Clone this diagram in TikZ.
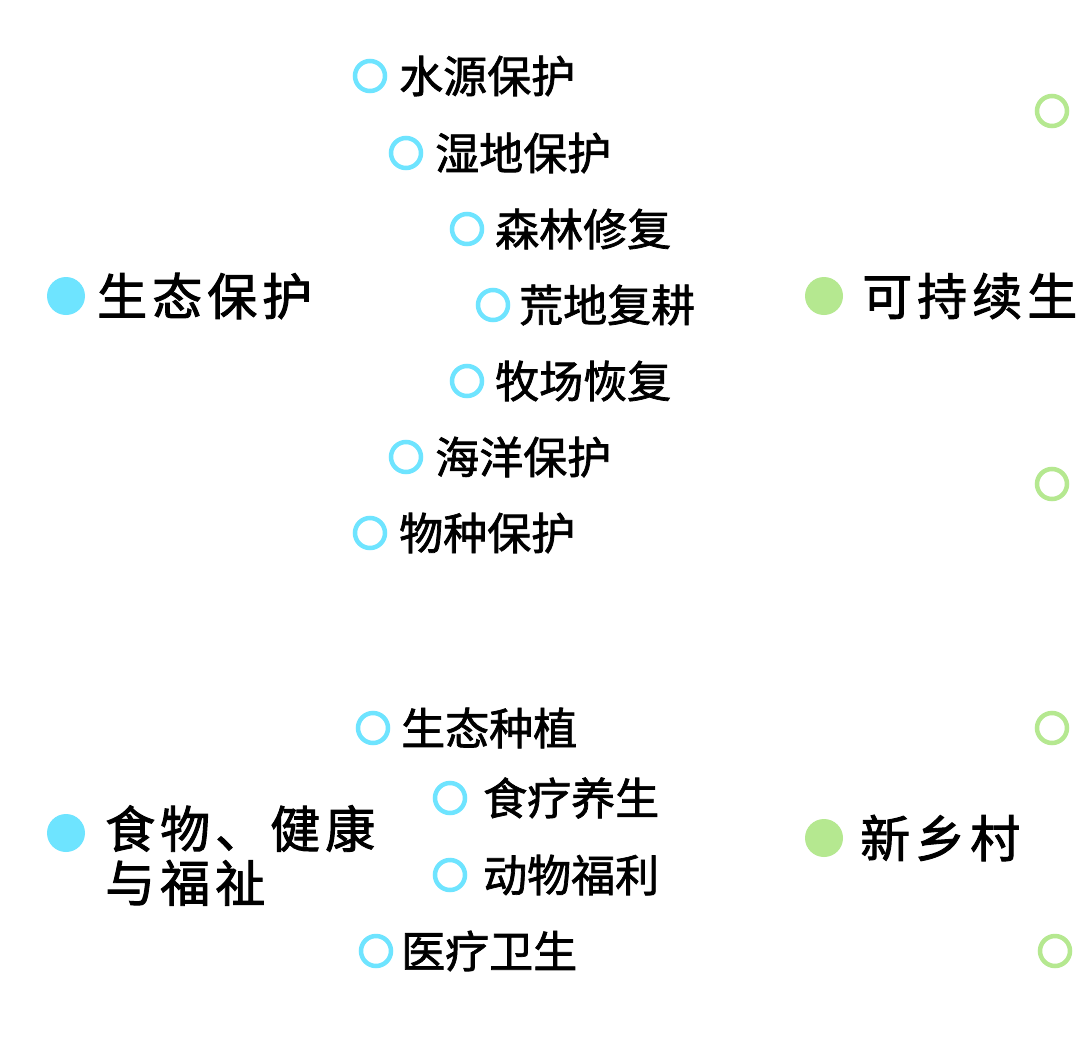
\documentclass[tikz,border=0pt]{standalone}
\usepackage{fontspec}
\newfontfamily\cjk[FakeBold=1.6]{Noto Sans CJK SC}
\newfontfamily\cjkbig[LetterSpace=10,FakeBold=1.8]{Noto Sans CJK SC}
\usetikzlibrary{positioning}
\definecolor{eco}{RGB}{110,228,255}
\definecolor{farm}{RGB}{181,232,144}
\tikzset{
  bigdot/.style={circle,fill=#1,draw=none,minimum size=38pt,inner sep=0pt},
  ring/.style={circle,draw=#1,line width=4.5pt,minimum size=30pt,inner sep=0pt},
  topic/.style={anchor=west,inner sep=0pt,font=\cjkbig\fontsize{50}{54}\selectfont,text=black},
  item/.style={anchor=west,inner sep=0pt,font=\cjk\fontsize{44}{50}\selectfont,text=black}
}
\begin{document}
\begin{tikzpicture}[x=1pt,y=-1pt]
\useasboundingbox[fill=white] (0,0) rectangle (1080,1061);

% ecology block
\node[bigdot=eco] (eco) at (66,296) {};
\node[topic] (ecotext) at (97,296) {生态保护};
\node[ring=eco] (e1) at (370,76) {};
\node[item] (e1t) at (399,76) {水源保护};
\node[ring=eco] (e2) at (406,153) {};
\node[item] (e2t) at (435,153) {湿地保护};
\node[ring=eco] (e3) at (467,229) {};
\node[item] (e3t) at (495,229) {森林修复};
\node[ring=eco] (e4) at (493,305) {};
\node[item] (e4t) at (519,305) {荒地复耕};
\node[ring=eco] (e5) at (467,381) {};
\node[item] (e5t) at (495,381) {牧场恢复};
\node[ring=eco] (e6) at (406,457) {};
\node[item] (e6t) at (435,457) {海洋保护};
\node[ring=eco] (e7) at (370,533) {};
\node[item] (e7t) at (399,533) {物种保护};

% food block
\node[bigdot=eco] (food) at (66,833) {};
\node[topic,align=left,anchor=north west] (foodtext) at (105,805) {食物、健康\\与福祉};
\node[ring=eco] (f1) at (373,728) {};
\node[item] (f1t) at (401,728) {生态种植};
\node[ring=eco] (f2) at (450,798) {};
\node[item] (f2t) at (483,798) {食疗养生};
\node[ring=eco] (f3) at (450,875) {};
\node[item] (f3t) at (483,875) {动物福利};
\node[ring=eco] (f4) at (376,951) {};
\node[item] (f4t) at (401,951) {医疗卫生};

% green column
\node[bigdot=farm] (sus) at (824,296) {};
\node[topic] (sustext) at (862,296) {可持续生};
\node[bigdot=farm] (rural) at (824,838) {};
\node[topic] (ruraltext) at (860,838) {新乡村};
\node[ring=farm] (g1) at (1052,111) {};
\node[ring=farm] (g2) at (1052,484) {};
\node[ring=farm] (g3) at (1052,728) {};
\node[ring=farm] (g4) at (1055,951) {};

\end{tikzpicture}
\end{document}
